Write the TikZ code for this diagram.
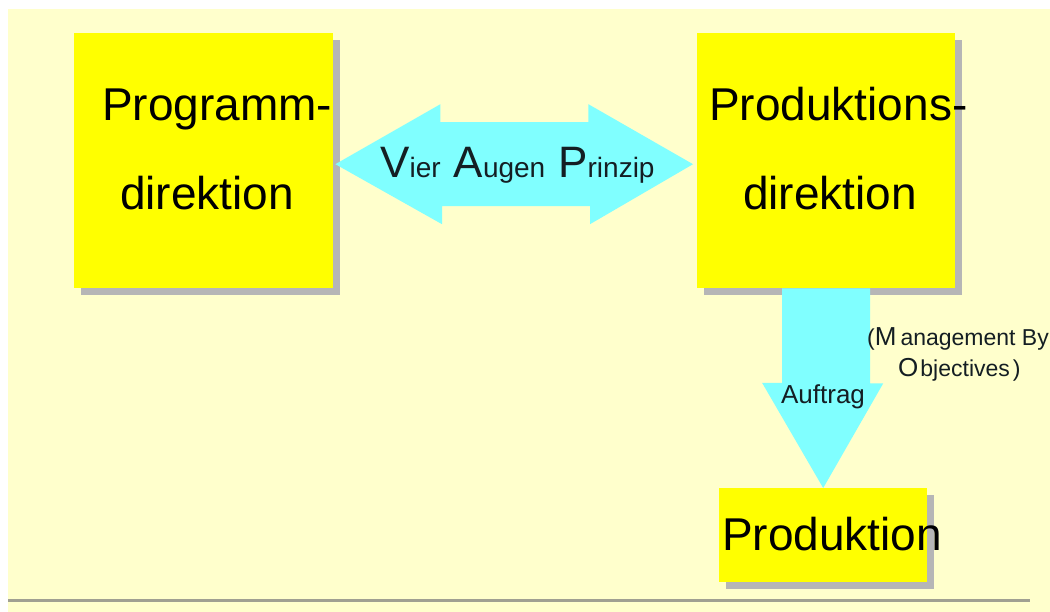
\documentclass[tikz,border=0pt]{standalone}
\usepackage{fontspec}
\setmainfont{Liberation Sans}
\usetikzlibrary{shadows,calc}
\definecolor{bgyellow}{RGB}{255,255,204}
\definecolor{boxyellow}{RGB}{255,255,0}
\definecolor{arrowcyan}{RGB}{128,255,255}
\definecolor{shadowgray}{RGB}{182,182,182}
\definecolor{rulegray}{RGB}{160,160,145}
\definecolor{labelink}{RGB}{20,30,35}
\newcommand\vapbig[1]{{\fontsize{44}{44}\selectfont #1}}
\newcommand\vapsmall[1]{{\fontsize{28}{28}\selectfont #1}}
\newcommand\mbobig[1]{{\fontsize{26}{26}\selectfont #1}}
\newcommand\mbosmall[1]{{\fontsize{23}{23}\selectfont #1}}
\tikzset{
  box/.style={fill=boxyellow, draw=none, inner sep=0pt, anchor=north west,
    drop shadow={shadow xshift=7pt, shadow yshift=-7pt, fill=shadowgray, opacity=1}},
  bigtext/.style={inner sep=0pt, font=\fontsize{46}{46}\selectfont, text=black},
  blockarrow/.style={fill=arrowcyan, draw=none},
  arrowlabel/.style={inner sep=0pt, text=labelink},
}
\begin{document}
\begin{tikzpicture}[x=1pt,y=-1pt]
\useasboundingbox (0,0) rectangle (1050,612);
\fill[white] (0,0) rectangle (1050,612);
\fill[bgyellow] (8,9) rectangle (1050,612);

% boxes
\node[box, minimum width=259pt, minimum height=255pt] (pg) at (74,33) {};
\node[box, minimum width=258pt, minimum height=255pt] (pd) at (697,33) {};
\node[box, minimum width=208pt, minimum height=94pt] (pr) at (719,488) {};

% box texts
\node[bigtext, anchor=base west] (pgt1) at (102,121) {Programm-};
\node[bigtext, anchor=base] (pgt2) at (207,210) {direktion};
\node[bigtext, anchor=base west] (pdt1) at (709,121) {Produktions-};
\node[bigtext, anchor=base] (pdt2) at (830,210) {direktion};
\node[bigtext, anchor=base west] (prt) at (722,550) {Produktion};

% double block arrow between the two directions
\coordinate (lt) at ([xshift=2pt,yshift=-3.5pt]pg.east);
\coordinate (rt) at ([xshift=-4pt,yshift=-3.5pt]pd.west);
\fill[blockarrow] (lt) -- ++(105,-60) -- ++(0,18) -- ++(148,0) -- ++(0,-18)
  -- (rt) -- ++(-103,60) -- ++(0,-18) -- ++(-148,0) -- ++(0,18) -- cycle;

% down block arrow
\fill[blockarrow] ([xshift=-44pt]pd.south) -- ([xshift=44pt]pd.south) -- ++(0,95)
  -- ++(13,0) -- (pr.north) -- ++(-61,-105) -- ++(20,0) -- cycle;

% labels
\node[arrowlabel, anchor=base west] (vap) at (380,178)
  {\vapbig{V}\vapsmall{ier}\hspace{13pt}\vapbig{A}\vapsmall{ugen}\hspace{13pt}\vapbig{P}\vapsmall{rinzip}};
\node[arrowlabel, anchor=base, font=\fontsize{26}{26}\selectfont] (auf) at (823,403) {Auftrag};
\node[arrowlabel, anchor=base west] (mbo1) at (867,345)
  {\mbosmall{(}\mbobig{M}\hspace{4pt}\mbosmall{anagement By}};
\node[arrowlabel, anchor=base west] (mbo2) at (898,377)
  {\mbobig{O}\hspace{2pt}\mbosmall{bjectives\hspace{3pt})}};

% bottom rule
\draw[rulegray, line width=3pt] (8,600) -- (1030,600);
\end{tikzpicture}
\end{document}
